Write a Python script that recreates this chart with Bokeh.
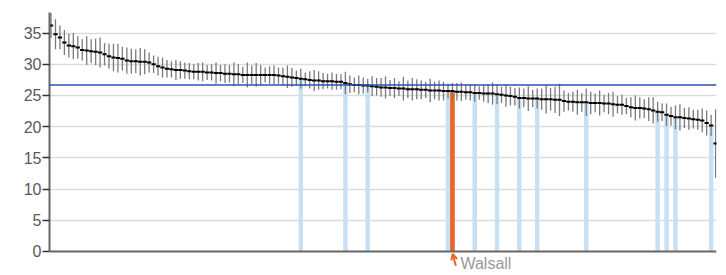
from bokeh.plotting import figure
from bokeh.models import Span, Label, Arrow, OpenHead, FixedTicker, Range1d
from bokeh.embed import file_html
from bokeh.resources import INLINE

# ---- data ----
values = [
    36.2, 34.8, 34.3, 33.5, 33.0, 32.9, 32.7, 32.3, 32.2, 32.1,
    32.0, 31.9, 31.6, 31.3, 31.1, 31.0, 30.9, 30.6, 30.5, 30.5,
    30.4, 30.4, 30.3, 30.0, 29.7, 29.5, 29.3, 29.2, 29.1, 29.1,
    29.0, 28.9, 28.8, 28.8, 28.8, 28.7, 28.7, 28.6, 28.6, 28.5,
    28.5, 28.4, 28.4, 28.3, 28.3, 28.3, 28.3, 28.3, 28.3, 28.3,
    28.3, 28.2, 28.1, 28.0, 27.9, 27.8, 27.7, 27.6, 27.5, 27.4,
    27.4, 27.3, 27.3, 27.3, 27.2, 27.2, 27.0, 26.8, 26.7, 26.7,
    26.6, 26.6, 26.5, 26.4, 26.3, 26.3, 26.2, 26.2, 26.1, 26.1,
    26.0, 26.0, 26.0, 25.9, 25.9, 25.8, 25.8, 25.8, 25.7, 25.7,
    25.7, 25.6, 25.6, 25.5, 25.5, 25.4, 25.4, 25.3, 25.3, 25.3,
    25.2, 25.1, 25.0, 24.9, 24.8, 24.6, 24.6, 24.5, 24.5, 24.5,
    24.4, 24.4, 24.4, 24.3, 24.3, 24.1, 24.0, 24.0, 23.9, 23.9,
    23.9, 23.8, 23.8, 23.8, 23.7, 23.7, 23.6, 23.5, 23.5, 23.3,
    23.1, 23.0, 23.0, 22.9, 22.8, 22.6, 22.4, 22.3, 21.9, 21.7,
    21.5, 21.5, 21.4, 21.3, 21.2, 21.1, 21.0, 20.6, 20.2, 17.3,
]
ci_half = [
    2.0, 2.4, 1.9, 2.0, 1.9, 2.1, 1.8, 1.7, 2.3, 1.9,
    2.1, 2.4, 1.8, 2.0, 2.2, 2.3, 1.9, 2.1, 2.0, 1.9,
    2.2, 2.0, 1.6, 1.4, 1.5, 1.6, 1.4, 1.3, 1.6, 1.4,
    1.3, 1.3, 1.2, 1.4, 1.5, 1.2, 1.3, 1.7, 1.3, 1.5,
    1.4, 1.9, 1.6, 1.3, 2.0, 1.5, 1.9, 1.6, 1.2, 1.4,
    1.5, 1.3, 1.4, 1.8, 1.5, 1.2, 1.6, 1.1, 1.4, 1.7,
    1.5, 1.3, 1.2, 1.4, 1.3, 1.2, 1.8, 1.4, 1.2, 1.5,
    1.3, 1.1, 1.6, 1.4, 1.5, 1.8, 1.3, 1.6, 1.2, 1.9,
    1.4, 1.8, 1.6, 1.5, 1.3, 1.9, 1.4, 1.6, 1.5, 1.2,
    1.3, 1.4, 1.5, 1.2, 1.3, 1.4, 1.1, 1.3, 1.5, 1.8,
    1.6, 1.3, 1.8, 1.5, 1.4, 1.7, 1.5, 2.0, 1.4, 1.6,
    1.7, 2.3, 1.8, 2.1, 2.6, 1.7, 1.4, 1.6, 2.0, 1.5,
    2.2, 1.8, 1.5, 2.0, 1.4, 1.7, 2.0, 1.4, 1.6, 1.3,
    1.6, 2.0, 1.7, 1.5, 1.9, 2.1, 1.6, 1.4, 1.8, 1.5,
    1.9, 2.1, 1.6, 1.8, 1.5, 1.6, 1.9, 2.0, 1.7, 5.5,
]
highlight_idx = [56, 66, 71, 89, 95, 100, 105, 109, 120, 136, 138, 140, 148]
focus_idx = 90
focus_name = "Walsall"
benchmark = 26.7
y_ticks = [0, 5, 10, 15, 20, 25, 30, 35]
y_max = 38.3

LIGHT_BLUE = "#c7e0f3"
ORANGE = "#ea6628"
LINE_BLUE = "#2c4fb5"
AXIS_GREY = "#666666"

n = len(values)
idx = list(range(n))
lo = [v - c for v, c in zip(values, ci_half)]
hi = [v + c for v, c in zip(values, ci_half)]

p = figure(
    width=726, height=275,
    x_range=Range1d(-0.34, n - 0.8),
    y_range=Range1d(-3.85, y_max),
    output_backend="svg", toolbar_location=None,
    min_border_left=49, min_border_right=10, min_border_top=12, min_border_bottom=0,
)
p.outline_line_color = None
p.background_fill_color = "white"
p.xaxis.visible = False

# grid
p.xgrid.visible = False
p.ygrid.ticker = FixedTicker(ticks=y_ticks[1:])
p.ygrid.grid_line_color = "#dcdcdc"
p.ygrid.grid_line_width = 1.5

# y axis
p.yaxis.ticker = FixedTicker(ticks=y_ticks)
p.yaxis.bounds = (0, y_max)
p.yaxis.axis_line_color = AXIS_GREY
p.yaxis.axis_line_width = 2
p.yaxis.major_tick_line_color = "#333333"
p.yaxis.major_tick_line_width = 1.5
p.yaxis.major_tick_out = 7
p.yaxis.major_tick_in = 0
p.yaxis.minor_tick_line_color = None
p.yaxis.major_label_text_font = "Liberation Sans"
p.yaxis.major_label_text_font_size = "16px"
p.yaxis.major_label_text_color = "#595959"
p.yaxis.major_label_standoff = 1

# highlighted bars
p.vbar(x=highlight_idx, top=[values[i] for i in highlight_idx], width=1.0,
       fill_color=LIGHT_BLUE, line_color=None)
p.vbar(x=[focus_idx], top=[values[focus_idx]], width=1.05,
       fill_color=ORANGE, line_color=None)

# benchmark line
p.add_layout(Span(location=benchmark, dimension="width",
                  line_color=LINE_BLUE, line_width=1.5))

# x axis line at zero
p.add_layout(Span(location=0, dimension="width", line_color=AXIS_GREY, line_width=2))

# error bars
p.segment(x0=idx, y0=lo, x1=idx, y1=hi, line_color="#7a7a7a", line_width=1.3)

# point estimates
p.segment(x0=[i - 0.48 for i in idx], y0=values, x1=[i + 0.48 for i in idx], y1=values,
          line_color="black", line_width=2)

# focus annotation
p.add_layout(Arrow(end=OpenHead(size=6, line_color=ORANGE, line_width=2),
                   x_start=focus_idx + 0.75, y_start=-2.3,
                   x_end=focus_idx + 0.05, y_end=-0.4,
                   line_color=ORANGE, line_width=2))
p.add_layout(Label(x=focus_idx, y=0, x_offset=8, y_offset=-4, text=focus_name,
                   text_baseline="top", text_font="Liberation Sans",
                   text_font_size="16px", text_color="#999999"))

open("out.html", "w").write(file_html(p, INLINE))
